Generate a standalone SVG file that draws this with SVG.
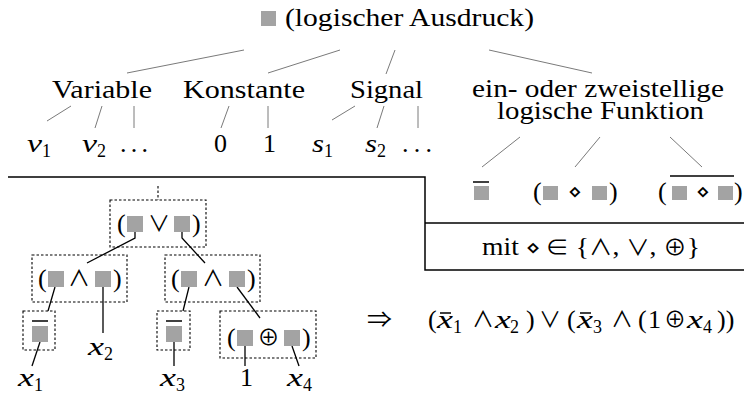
<svg xmlns="http://www.w3.org/2000/svg" width="744" height="394" viewBox="0 0 744 394">
<style>
.t{font-family:"Liberation Serif","DejaVu Serif",serif;font-size:26px;fill:#000}
.i{font-style:italic}
.sub{font-size:18px;font-style:normal}
.sym{font-family:"Noto Sans CJK JP","DejaVu Sans",sans-serif;font-size:22px;fill:#000;font-style:normal}
.sq{fill:#a3a3a3}
.gl{stroke:#7a7a7a;stroke-width:1;fill:none}
.bl{stroke:#000;stroke-width:1.3;fill:none}
.db{stroke:#000;stroke-width:1.1;stroke-dasharray:2.5 2;fill:none}
.rule{stroke:#000;stroke-width:1.5;fill:none}
.ov{stroke:#000;stroke-width:1.5}
</style>
<rect width="744" height="394" fill="#fff"/>

<g id="connectors">
  <line class="gl" x1="244" y1="50" x2="127" y2="73"/>
  <line class="gl" x1="340" y1="50" x2="268" y2="73"/>
  <line class="gl" x1="395" y1="50" x2="386" y2="74"/>
  <line class="gl" x1="489" y1="50" x2="592" y2="73"/>
  <line class="gl" x1="71" y1="106" x2="47" y2="121"/>
  <line class="gl" x1="102" y1="106" x2="95" y2="128"/>
  <line class="gl" x1="134" y1="106" x2="134" y2="128"/>
  <line class="gl" x1="229" y1="106" x2="221" y2="128"/>
  <line class="gl" x1="268" y1="106" x2="268" y2="128"/>
  <line class="gl" x1="355" y1="106" x2="332" y2="120"/>
  <line class="gl" x1="384" y1="106" x2="377" y2="128"/>
  <line class="gl" x1="418" y1="106" x2="418" y2="128"/>
  <line class="gl" x1="520" y1="137" x2="482" y2="167"/>
  <line class="gl" x1="600" y1="137" x2="575" y2="167"/>
  <line class="gl" x1="670" y1="137" x2="702" y2="167"/>
  <line class="db" x1="158" y1="186" x2="158" y2="200"/>
  <polyline class="bl" points="135,232 135,238 87,263"/>
  <polyline class="bl" points="182,232 182,238 205,263"/>
  <line class="bl" x1="55" y1="287" x2="48" y2="311"/>
  <line class="bl" x1="103" y1="287" x2="103" y2="333"/>
  <line class="bl" x1="40" y1="342" x2="32" y2="366"/>
  <line class="bl" x1="189" y1="287" x2="183" y2="311"/>
  <line class="bl" x1="237" y1="287" x2="260" y2="318"/>
  <line class="bl" x1="174" y1="342" x2="174" y2="366"/>
  <line class="bl" x1="245" y1="346" x2="245" y2="366"/>
  <line class="bl" x1="292" y1="346" x2="299" y2="366"/>
</g>

<g id="frame">
  <polyline class="rule" points="8,177 425,177 425,270 744,270"/>
  <line class="rule" x1="425" y1="223" x2="744" y2="223"/>
</g>

<g id="root">
  <rect class="sq" x="261" y="11" width="15" height="15"/>
  <text class="t" x="285" y="26" textLength="249" lengthAdjust="spacingAndGlyphs">(logischer Ausdruck)</text>
</g>

<g id="variable">
  <text class="t" x="52" y="98" textLength="100" lengthAdjust="spacingAndGlyphs">Variable</text>
  <text class="t i" x="27" y="152" textLength="15" lengthAdjust="spacingAndGlyphs">v</text>
  <text class="t sub" x="42" y="157">1</text>
  <text class="t i" x="82" y="152" textLength="15" lengthAdjust="spacingAndGlyphs">v</text>
  <text class="t sub" x="97" y="157">2</text>
  <text class="t" x="120" y="152" textLength="28" lengthAdjust="spacing">. . .</text>
</g>

<g id="konstante">
  <text class="t" x="183" y="98" textLength="122" lengthAdjust="spacingAndGlyphs">Konstante</text>
  <text class="t" x="214" y="152">0</text>
  <text class="t" x="263" y="152">1</text>
</g>

<g id="signal">
  <text class="t" x="350" y="98" textLength="73" lengthAdjust="spacingAndGlyphs">Signal</text>
  <text class="t i" x="312" y="152" textLength="12" lengthAdjust="spacingAndGlyphs">s</text>
  <text class="t sub" x="324" y="157">1</text>
  <text class="t i" x="365" y="152" textLength="12" lengthAdjust="spacingAndGlyphs">s</text>
  <text class="t sub" x="377" y="157">2</text>
  <text class="t" x="402" y="152" textLength="30" lengthAdjust="spacing">. . .</text>
</g>

<g id="funktion">
  <text class="t" x="472" y="97" textLength="252" lengthAdjust="spacingAndGlyphs">ein- oder zweistellige</text>
  <text class="t" x="497" y="119" textLength="207" lengthAdjust="spacingAndGlyphs">logische Funktion</text>
  <line class="ov" x1="473" y1="182" x2="489" y2="182"/>
  <rect class="sq" x="474" y="186" width="15" height="14"/>
  <text class="t" x="533" y="200">(</text>
  <rect class="sq" x="543" y="186" width="15" height="14"/>
  <text class="sym" x="575" y="199" text-anchor="middle">⋄</text>
  <rect class="sq" x="592" y="186" width="15" height="14"/>
  <text class="t" x="609" y="200">)</text>
  <text class="t" x="658" y="200">(</text>
  <line class="ov" x1="670" y1="176" x2="734" y2="176"/>
  <rect class="sq" x="672" y="186" width="15" height="14"/>
  <text class="sym" x="703" y="199" text-anchor="middle">⋄</text>
  <rect class="sq" x="718" y="186" width="15" height="14"/>
  <text class="t" x="734" y="200">)</text>
  <text class="t" x="482" y="255" textLength="218" lengthAdjust="spacingAndGlyphs">mit <tspan class="sym">⋄ ∈</tspan> {<tspan class="sym">∧</tspan>, <tspan class="sym">∨</tspan>, <tspan class="sym">⊕</tspan>}</text>
</g>

<g id="node-or">
  <rect class="db" x="110" y="200" width="96" height="47"/>
  <text class="t" x="117" y="232">(</text>
  <rect class="sq" x="127" y="216" width="16" height="16"/>
  <text class="sym" x="159" y="231" text-anchor="middle">∨</text>
  <rect class="sq" x="174" y="216" width="16" height="16"/>
  <text class="t" x="192" y="232">)</text>
</g>

<g id="node-and-left">
  <rect class="db" x="32" y="255" width="95" height="47"/>
  <text class="t" x="38" y="287">(</text>
  <rect class="sq" x="48" y="271" width="16" height="16"/>
  <text class="sym" x="79" y="286" text-anchor="middle">∧</text>
  <rect class="sq" x="95" y="271" width="16" height="16"/>
  <text class="t" x="113" y="287">)</text>
</g>

<g id="node-and-right">
  <rect class="db" x="165" y="255" width="95" height="47"/>
  <text class="t" x="171" y="287">(</text>
  <rect class="sq" x="181" y="271" width="16" height="16"/>
  <text class="sym" x="213" y="286" text-anchor="middle">∧</text>
  <rect class="sq" x="229" y="271" width="16" height="16"/>
  <text class="t" x="247" y="287">)</text>
</g>

<g id="node-not-left">
  <rect class="db" x="23" y="311" width="32" height="39"/>
  <line class="ov" x1="32" y1="321" x2="48" y2="321"/>
  <rect class="sq" x="32" y="326" width="16" height="16"/>
</g>

<g id="node-not-right">
  <rect class="db" x="157" y="311" width="33" height="39"/>
  <line class="ov" x1="166" y1="321" x2="182" y2="321"/>
  <rect class="sq" x="166" y="326" width="16" height="16"/>
</g>

<g id="node-xor">
  <rect class="db" x="220" y="311" width="96" height="47"/>
  <text class="t" x="227" y="346">(</text>
  <rect class="sq" x="237" y="330" width="16" height="16"/>
  <text class="sym" x="268.5" y="345" text-anchor="middle">⊕</text>
  <rect class="sq" x="284" y="330" width="16" height="16"/>
  <text class="t" x="302" y="346">)</text>
</g>

<g id="leaves">
  <text class="t i" x="88" y="355" textLength="16" lengthAdjust="spacingAndGlyphs">x</text>
  <text class="t sub" x="104" y="360">2</text>
  <text class="t i" x="18" y="386" textLength="16" lengthAdjust="spacingAndGlyphs">x</text>
  <text class="t sub" x="34" y="391">1</text>
  <text class="t i" x="160" y="386" textLength="16" lengthAdjust="spacingAndGlyphs">x</text>
  <text class="t sub" x="176" y="391">3</text>
  <text class="t" x="240" y="386">1</text>
  <text class="t i" x="287" y="386" textLength="16" lengthAdjust="spacingAndGlyphs">x</text>
  <text class="t sub" x="303" y="391">4</text>
</g>

<g id="result">
  <text class="sym" x="367" y="327" font-size="26" textLength="25" lengthAdjust="spacingAndGlyphs">⇒</text>
  <text class="t" x="428" y="328">(</text>
  <line class="ov" x1="440" y1="313" x2="451" y2="313" stroke-width="1.2"/>
  <text class="t i" x="437" y="328" textLength="16" lengthAdjust="spacingAndGlyphs">x</text>
  <text class="t sub" x="453" y="333">1</text>
  <text class="sym" x="483" y="327" text-anchor="middle">∧</text>
  <text class="t i" x="495" y="328" textLength="16" lengthAdjust="spacingAndGlyphs">x</text>
  <text class="t sub" x="510" y="333">2</text>
  <text class="t" x="526" y="328">)</text>
  <text class="sym" x="550" y="327" text-anchor="middle">∨</text>
  <text class="t" x="567" y="328">(</text>
  <line class="ov" x1="580" y1="313" x2="591" y2="313" stroke-width="1.2"/>
  <text class="t i" x="577" y="328" textLength="16" lengthAdjust="spacingAndGlyphs">x</text>
  <text class="t sub" x="593" y="333">3</text>
  <text class="sym" x="622" y="327" text-anchor="middle">∧</text>
  <text class="t" x="638" y="328">(</text>
  <text class="t" x="648" y="328">1</text>
  <text class="sym" x="675" y="327" text-anchor="middle">⊕</text>
  <text class="t i" x="687" y="328" textLength="16" lengthAdjust="spacingAndGlyphs">x</text>
  <text class="t sub" x="703" y="333">4</text>
  <text class="t" x="717" y="328">))</text>
</g>
</svg>
